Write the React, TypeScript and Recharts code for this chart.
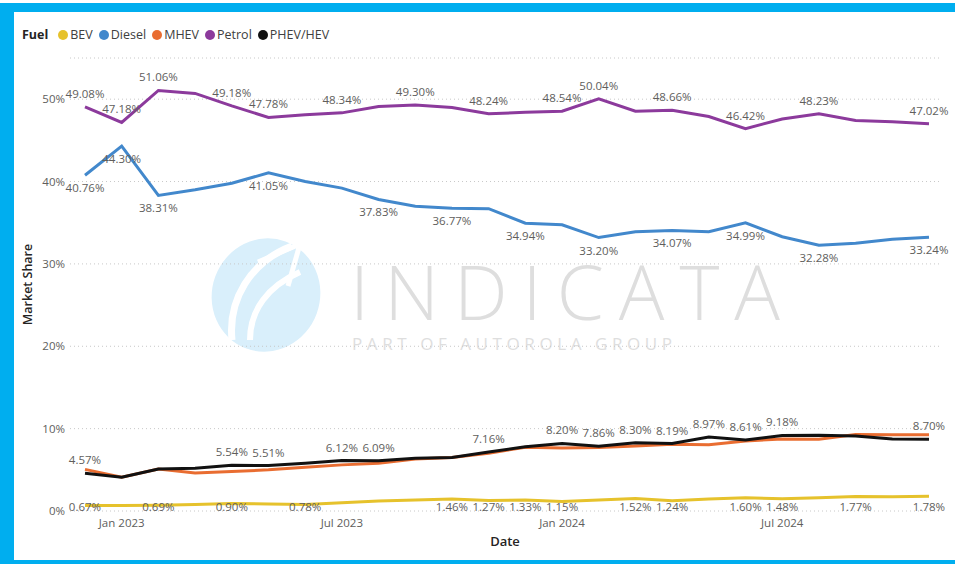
import { LineChart, Line, XAxis, YAxis, CartesianGrid, LabelList } from "recharts"

const months = [
  "Dec 2022", "Jan 2023", "Feb 2023", "Mar 2023", "Apr 2023", "May 2023",
  "Jun 2023", "Jul 2023", "Aug 2023", "Sep 2023", "Oct 2023", "Nov 2023",
  "Dec 2023", "Jan 2024", "Feb 2024", "Mar 2024", "Apr 2024", "May 2024",
  "Jun 2024", "Jul 2024", "Aug 2024", "Sep 2024", "Oct 2024", "Nov 2024",
]

const bev = [0.67, 0.68, 0.69, 0.78, 0.9, 0.85, 0.78, 1.0, 1.2, 1.35, 1.46, 1.27, 1.33, 1.15, 1.35, 1.52, 1.24, 1.45, 1.6, 1.48, 1.62, 1.77, 1.72, 1.78]
const diesel = [40.76, 44.3, 38.31, 39.0, 39.8, 41.05, 40.0, 39.2, 37.83, 37.0, 36.77, 36.7, 34.94, 34.75, 33.2, 33.9, 34.07, 33.9, 34.99, 33.3, 32.28, 32.5, 33.0, 33.24]
const mhev = [5.05, 4.1, 5.1, 4.6, 4.8, 5.0, 5.3, 5.6, 5.8, 6.3, 6.5, 7.0, 7.75, 7.65, 7.7, 7.9, 8.1, 8.05, 8.5, 8.75, 8.7, 9.3, 9.25, 9.25]
const petrol = [49.08, 47.18, 51.06, 50.7, 49.18, 47.78, 48.1, 48.34, 49.1, 49.3, 49.0, 48.24, 48.4, 48.54, 50.04, 48.55, 48.66, 47.9, 46.42, 47.6, 48.23, 47.4, 47.25, 47.02]
const phev = [4.57, 4.1, 5.1, 5.2, 5.54, 5.51, 5.8, 6.12, 6.09, 6.4, 6.5, 7.16, 7.8, 8.2, 7.86, 8.3, 8.19, 8.97, 8.61, 9.18, 9.2, 9.1, 8.75, 8.7]

const yTicks = [0, 10, 20, 30, 40, 50]

// which points show a data label (power bi hides the crowded ones)
const petrolLabels = [0, 1, 2, 4, 5, 7, 9, 11, 13, 14, 16, 18, 20, 23]
const dieselLabels = [0, 1, 2, 5, 8, 10, 12, 14, 16, 18, 20, 23]
const phevLabels = [0, 4, 5, 7, 8, 11, 13, 14, 15, 16, 17, 18, 19, 23]
const bevLabels = [0, 2, 4, 6, 10, 11, 12, 13, 15, 16, 18, 19, 21, 23]

const data = months.map((m, i) => ({
  month: m,
  BEV: bev[i],
  Diesel: diesel[i],
  MHEV: mhev[i],
  Petrol: petrol[i],
  PHEV: phev[i],
}))

const W = 955
const H = 564
const MARGIN = { top: 58, right: 15, bottom: 13, left: 20 }
const X_AXIS_H = 40
const PLOT_BOTTOM = H - MARGIN.bottom - X_AXIS_H

const FONT = "'Open Sans', 'Noto Sans', sans-serif"
const LABEL_COLOR = "#605E5C"

const colors = {
  BEV: "#E6C22C",
  Diesel: "#4288CC",
  MHEV: "#E96D31",
  Petrol: "#8C3A9C",
  PHEV: "#111111",
}

const legendItems = [
  { name: "BEV", color: colors.BEV },
  { name: "Diesel", color: colors.Diesel },
  { name: "MHEV", color: colors.MHEV },
  { name: "Petrol", color: colors.Petrol },
  { name: "PHEV/HEV", color: colors.PHEV },
]

const makeLabel = (show: number[], place: "above" | "below" | "bottom") => (props: any) => {
  const { x, y, value, index } = props
  if (!show.includes(index)) return null
  let ty = y - 9
  if (place === "below") ty = y + 17
  if (place === "bottom") ty = Math.min(y + 17, PLOT_BOTTOM)
  return (
    <text x={x} y={ty} textAnchor="middle" fill={LABEL_COLOR} fontSize={11.5} fontFamily={FONT}>
      {Number(value).toFixed(2)}%
    </text>
  )
}

const Watermark = () => (
  <svg width={W} height={H} style={{ position: "absolute", left: 0, top: 0 }}>
    <ellipse cx={266} cy={295} rx={54} ry={57} fill="#D9EFFB" transform="rotate(20 266 295)" />
    <path d="M232 340 C 228 300, 250 262, 292 246" stroke="#fff" strokeWidth={7} fill="none" />
    <path d="M250 340 C 250 310, 268 286, 300 272" stroke="#fff" strokeWidth={6} fill="none" />
    <path d="M258 262 L 300 244 L 288 286" stroke="#fff" strokeWidth={5} fill="none" />
    <text x={350} y={320} fontSize={76} fill="#DEDEDE" fontFamily={FONT} fontWeight={300}
      textLength={430} lengthAdjust="spacing">INDICATA</text>
    <text x={352} y={350} fontSize={17} fill="#DEDEDE" fontFamily={FONT}
      textLength={320} lengthAdjust="spacing">PART OF AUTOROLA GROUP</text>
  </svg>
)

export default function App() {
  return (
    <div style={{ position: "absolute", left: 0, top: 0, width: W, height: H, background: "#fff", overflow: "hidden" }}>
      <Watermark />
      <div style={{ position: "absolute", left: 0, top: 3, width: W, height: 9, background: "#00AEEF" }} />
      <div style={{ position: "absolute", left: 0, top: 3, width: 14, height: H, background: "#00AEEF" }} />
      <div style={{ position: "absolute", left: 0, top: 560, width: W, height: 4, background: "#00AEEF" }} />

      <div style={{ position: "absolute", left: 22, top: 26, display: "flex", alignItems: "center",
        fontFamily: FONT, fontSize: 12.5, color: "#252423", whiteSpace: "nowrap" }}>
        <span style={{ fontWeight: 700, marginRight: 10 }}>Fuel</span>
        {legendItems.map((it) => (
          <span key={it.name} style={{ display: "flex", alignItems: "center", marginRight: 6 }}>
            <span style={{ width: 10, height: 10, borderRadius: 5, background: it.color, marginRight: 2 }} />
            <span style={{ color: "#404040" }}>{it.name}</span>
          </span>
        ))}
      </div>

      <div style={{ position: "absolute", left: 0, top: 0 }}>
        <LineChart width={W} height={H} data={data} margin={MARGIN}>
          <CartesianGrid vertical={false} stroke="#C8C8C8" strokeDasharray="1 3" />
          <XAxis
            dataKey="month"
            height={X_AXIS_H}
            interval={0}
            axisLine={false}
            tickLine={false}
            padding={{ left: 15, right: 11 }}
            tick={{ fill: LABEL_COLOR, fontSize: 11.5, fontFamily: FONT }}
            tickFormatter={(m: string) => (m.startsWith("Jan") || m.startsWith("Jul") ? m : "")}
            label={{ value: "Date", position: "insideBottom", offset: 5, fill: "#252423", fontSize: 13, fontFamily: FONT, fontWeight: 600 }}
          />
          <YAxis
            width={50}
            domain={[0, 55]}
            ticks={yTicks}
            axisLine={false}
            tickLine={false}
            tickSize={0}
            tickMargin={5}
            tickFormatter={(v: number) => `${v}%`}
            tick={{ fill: LABEL_COLOR, fontSize: 11.5, fontFamily: FONT }}
            label={{ value: "Market Share", angle: -90, position: "insideLeft", offset: 8, fill: "#252423", fontSize: 12.5, fontFamily: FONT, fontWeight: 600, style: { textAnchor: "middle" } }}
          />
          <Line dataKey="BEV" stroke={colors.BEV} strokeWidth={3} dot={false} isAnimationActive={false}>
            <LabelList dataKey="BEV" content={makeLabel(bevLabels, "bottom")} />
          </Line>
          <Line dataKey="MHEV" stroke={colors.MHEV} strokeWidth={3} dot={false} isAnimationActive={false} />
          <Line dataKey="PHEV" stroke={colors.PHEV} strokeWidth={3} dot={false} isAnimationActive={false}>
            <LabelList dataKey="PHEV" content={makeLabel(phevLabels, "above")} />
          </Line>
          <Line dataKey="Diesel" stroke={colors.Diesel} strokeWidth={3} dot={false} isAnimationActive={false}>
            <LabelList dataKey="Diesel" content={makeLabel(dieselLabels, "below")} />
          </Line>
          <Line dataKey="Petrol" stroke={colors.Petrol} strokeWidth={3} dot={false} isAnimationActive={false}>
            <LabelList dataKey="Petrol" content={makeLabel(petrolLabels, "above")} />
          </Line>
        </LineChart>
      </div>
    </div>
  )
}
